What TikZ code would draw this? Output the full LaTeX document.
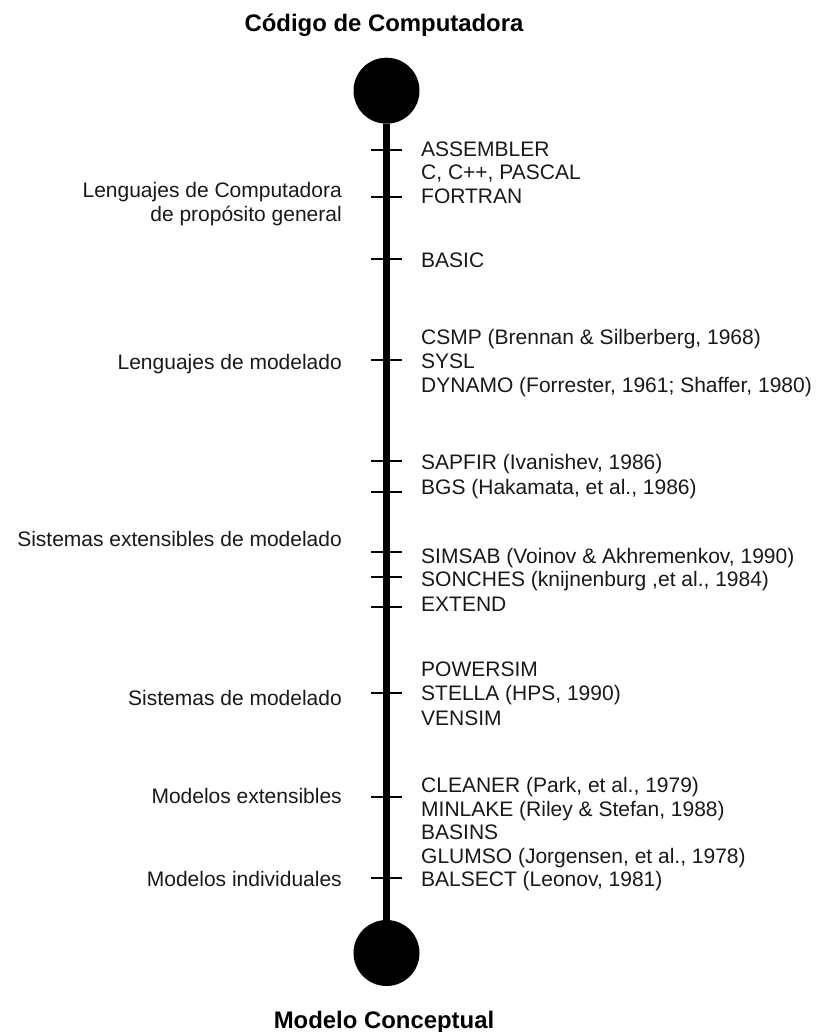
\documentclass[tikz,border=0pt]{standalone}
\usepackage{fontspec}
\setmainfont{Liberation Sans}
\colorlet{axisColor}{black}
\colorlet{tickColor}{black}
\colorlet{labelColor}{black!90}

\begin{document}
\begin{tikzpicture}[x=1pt,y=-1pt,
  every node/.style={inner sep=0pt,text height=15pt,text depth=0pt},
  item/.style={labelColor,anchor=west,font=\fontsize{21}{24}\selectfont},
  level/.style={labelColor,anchor=east,font=\fontsize{21}{24}\selectfont},
  heading/.style={font=\fontsize{23.9}{28}\selectfont\bfseries,text height=17.1pt},
  endpoint/.style={circle,fill=axisColor,minimum size=66pt}]
\useasboundingbox (0,0) rectangle (821,1032);

\node[heading] (code) at (384,23.3) {Código de Computadora};
\node[heading] (concept) at (384,1020) {Modelo Conceptual};

\node[endpoint] (top) at (386.5,90.7) {};
\node[endpoint] (bottom) at (386.5,953) {};
\draw[axisColor,line width=7.3pt] (top) -- (bottom);

\draw[tickColor,line width=1.5pt]
(371,150) -- (402,150)
(371,197) -- (402,197)
(371,259) -- (402,259)
(371,360) -- (402,360)
(371,461) -- (402,461)
(371,492) -- (402,492)
(371,552) -- (402,552)
(371,577) -- (402,577)
(371,607) -- (402,607)
(371,693) -- (402,693)
(371,797) -- (402,797)
(371,878) -- (402,878);

\node[level] (general) at (342,190) {Lenguajes de Computadora};
\node[level] (generalB) at (342,214) {de propósito general};
\node[level] (modlang) at (342,362) {Lenguajes de modelado};
\node[level] (extsys) at (342,539) {Sistemas extensibles de modelado};
\node[level] (modsys) at (342,698) {Sistemas de modelado};
\node[level] (extmod) at (342,796) {Modelos extensibles};
\node[level] (indmod) at (342,878.5) {Modelos individuales};

\node[item] (asm) at (421,149) {ASSEMBLER};
\node[item] (cpp) at (421,172.5) {C, C++, PASCAL};
\node[item] (fortran) at (421,196) {FORTRAN};
\node[item] (basic) at (421,259.5) {BASIC};
\node[item] (csmp) at (421,337) {CSMP (Brennan \& Silberberg, 1968)};
\node[item] (sysl) at (421,360.5) {SYSL};
\node[item] (dynamo) at (421,385) {DYNAMO (Forrester, 1961; Shaffer, 1980)};
\node[item] (sapfir) at (421,462) {SAPFIR (Ivanishev, 1986)};
\node[item] (bgs) at (421,487) {BGS (Hakamata, et al., 1986)};
\node[item] (simsab) at (421,556) {SIMSAB (Voinov \& Akhremenkov, 1990)};
\node[item] (sonches) at (421,579) {SONCHES (knijnenburg ,et al., 1984)};
\node[item] (extend) at (421,604) {EXTEND};
\node[item] (powersim) at (421,669) {POWERSIM};
\node[item] (stella) at (421,693) {STELLA (HPS, 1990)};
\node[item] (vensim) at (421,717.5) {VENSIM};
\node[item] (cleaner) at (421,785) {CLEANER (Park, et al., 1979)};
\node[item] (minlake) at (421,808.5) {MINLAKE (Riley \& Stefan, 1988)};
\node[item] (basins) at (421,832) {BASINS};
\node[item] (glumso) at (421,855.5) {GLUMSO (Jorgensen, et al., 1978)};
\node[item] (balsect) at (421,879) {BALSECT (Leonov, 1981)};
\end{tikzpicture}
\end{document}
